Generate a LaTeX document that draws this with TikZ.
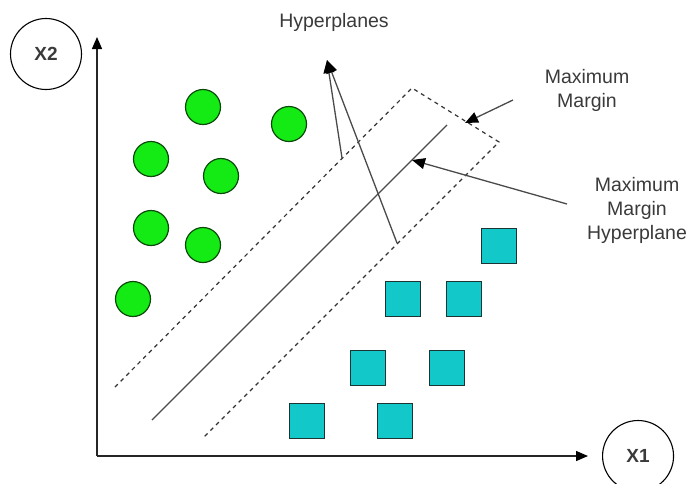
\documentclass[tikz,border=0pt]{standalone}
\usepackage{fontspec}
\setmainfont{Liberation Sans}
\usetikzlibrary{positioning, arrows.meta}

\definecolor{labelgray}{HTML}{3A3A3A}
\definecolor{linegray}{HTML}{4A4A4A}
\definecolor{dotgreen}{HTML}{14EA14}
\definecolor{dotborder}{HTML}{0B4A0B}
\definecolor{boxcyan}{HTML}{12C8C8}
\definecolor{boxborder}{HTML}{1D3434}

\begin{document}
\begin{tikzpicture}
    [
        x=1pt, y=-1pt,
        every node/.style={text=labelgray, font=\fontsize{19.5}{24}\selectfont},
        axislabel/.style={circle, draw=black, line width=1.1pt, minimum size=71pt,
                          inner sep=0pt, font=\bfseries\fontsize{19}{24}\selectfont},
        dot/.style={circle, draw=dotborder, fill=dotgreen, line width=1.2pt,
                    minimum size=35pt, inner sep=0pt},
        box/.style={rectangle, draw=boxborder, fill=boxcyan, line width=1.2pt,
                    minimum size=35pt, inner sep=0pt},
        axis/.style={draw=black!85, line width=1.4pt, -{Triangle[length=12pt,width=10pt,color=black]}},
        pointer/.style={draw=linegray, line width=1.3pt, -{Triangle[length=13pt,width=11pt,color=black]}},
        margin/.style={draw=black!80, line width=1.2pt, dash pattern=on 4pt off 4pt},
        note/.style={align=center}
    ]
    \useasboundingbox (0,0) rectangle (692,483);

    % axes
    \coordinate (origin) at (97,456);
    \coordinate (ytip) at (97,37);
    \coordinate (xtip) at (588,456);
    \draw[axis] (origin) -- (ytip);
    \draw[axis] (origin) -- (xtip);
    \node (x2) [axislabel] at (46,54) {X2};
    \node (x1) [axislabel, right=14pt of xtip] {X1};

    % class one
    \node (g1) [dot] at (203,107) {};
    \node (g2) [dot] at (289,124) {};
    \node (g3) [dot] at (151,159) {};
    \node (g4) [dot] at (221,176) {};
    \node (g5) [dot] at (151,228) {};
    \node (g6) [dot] at (203,245) {};
    \node (g7) [dot] at (133,299) {};

    % class two
    \node (s1) [box] at (499,246) {};
    \node (s2) [box] at (403,299) {};
    \node (s3) [box] at (464,299) {};
    \node (s4) [box] at (368,368) {};
    \node (s5) [box] at (447,368) {};
    \node (s6) [box] at (307,421) {};
    \node (s7) [box] at (395,421) {};

    % margin and separating line
    \coordinate (m1) at (115,387);
    \coordinate (m2) at (412,88);
    \coordinate (m3) at (499,142);
    \coordinate (m4) at (203,438);
    \draw[margin] (m1) -- (m2) -- (m3) -- (m4);
    \coordinate (h1) at (152,420);
    \coordinate (h2) at (447,125);
    \draw[draw=linegray, line width=1.3pt] (h1) -- (h2);

    % labels
    \node (hyp) at (334,22) {Hyperplanes};
    \node (mm) [note] at (587,90) {Maximum\\Margin};
    \node (mmh) [note] at (637,210) {Maximum\\Margin\\Hyperplane};

    \coordinate (hptip) at (327,60);
    \coordinate (hpa) at (342,158);
    \coordinate (hpb) at (397,243);
    \draw[pointer] (hpa) -- (hptip);
    \draw[pointer] (hpb) -- (hptip);
    \coordinate (mmfrom) at (513,100);
    \coordinate (mmto) at (465,123);
    \draw[pointer] (mmfrom) -- (mmto);
    \coordinate (mmhfrom) at (567,204);
    \coordinate (mmhto) at (412,160);
    \draw[pointer] (mmhfrom) -- (mmhto);
\end{tikzpicture}
\end{document}
